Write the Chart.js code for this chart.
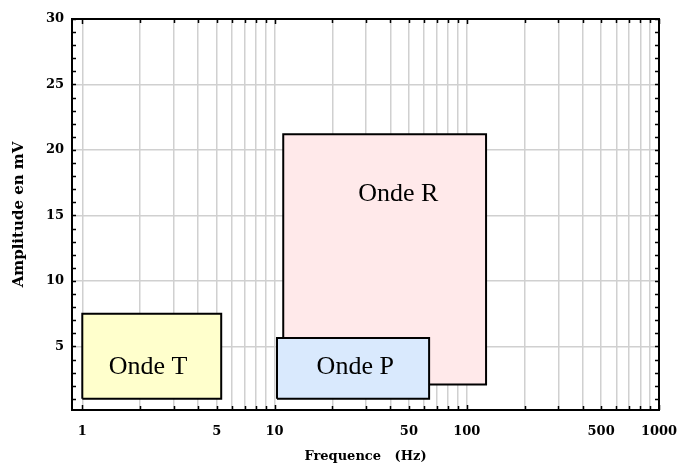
<!DOCTYPE html>
<html>
<head>
  <meta charset="UTF-8">
  <script src="https://cdn.jsdelivr.net/npm/chart.js"></script>
  <style>
    body { margin: 0; background: #fff; }
    #wrap { width: 677px; height: 468px; }
  </style>
</head>
<body>
<div id="wrap"><canvas id="myChart"></canvas></div>
<script>
// wave zones (frequency range in Hz, amplitude range in mV)
const waveNames = ['Onde T', 'Onde P', 'Onde R'];
const freqLow = [1.0, 10.3, 11.1];
const freqHigh = [5.28, 63.7, 126];
const ampLow = [1.0, 1.0, 2.1];
const ampHigh = [7.5, 5.65, 21.2];
const labelFreq = [2.2, 26.3, 44];
const labelAmp = [3.45, 3.45, 16.6];
const fillColors = ['#ffffcc', '#d9e9fd', '#ffe9ea'];

// axis ticks
const xTickValues = [1, 2, 3, 4, 5, 6, 7, 8, 9, 10, 20, 30, 40, 50, 60, 70, 80, 90,
  100, 200, 300, 400, 500, 600, 700, 800, 900, 1000];
const xTickLabels = [1, 5, 10, 50, 100, 500, 1000];
const yTickValues = [1, 2, 3, 4, 5, 6, 7, 8, 9, 10, 11, 12, 13, 14, 15, 16, 17, 18, 19, 20,
  21, 22, 23, 24, 25, 26, 27, 28, 29, 30];
const yTickLabels = [5, 10, 15, 20, 25, 30];

const tickFont = { family: 'DejaVu Serif', size: 13, weight: 'bold' };

// each zone as a closed rectangle path
const datasets = waveNames.map((name, i) => ({
  label: name,
  data: [
    { x: freqLow[i], y: ampLow[i] },
    { x: freqHigh[i], y: ampLow[i] },
    { x: freqHigh[i], y: ampHigh[i] },
    { x: freqLow[i], y: ampHigh[i] },
    { x: freqLow[i], y: ampLow[i] }
  ],
  backgroundColor: fillColors[i],
  borderColor: '#000',
  borderWidth: 2,
  fill: 'shape',
  pointRadius: 0,
  tension: 0
}));

// frame, inner tick marks and zone names
const framePlugin = {
  id: 'frame',
  afterDatasetsDraw(chart) {
    const ctx = chart.ctx;
    const area = chart.chartArea;
    const xs = chart.scales.x, ys = chart.scales.y;
    ctx.save();
    ctx.strokeStyle = '#000';
    ctx.lineWidth = 1.5;
    xTickValues.forEach(v => {
      const px = Math.round(xs.getPixelForValue(v)) + 0.5;
      const len = (v === 1 || v === 10 || v === 100 || v === 1000) ? 5 : 4;
      ctx.beginPath();
      ctx.moveTo(px, area.bottom); ctx.lineTo(px, area.bottom - len);
      ctx.moveTo(px, area.top); ctx.lineTo(px, area.top + len);
      ctx.stroke();
    });
    yTickValues.forEach(v => {
      const py = Math.round(ys.getPixelForValue(v)) + 0.5;
      ctx.beginPath();
      ctx.moveTo(area.left, py); ctx.lineTo(area.left + 4, py);
      ctx.moveTo(area.right, py); ctx.lineTo(area.right - 4, py);
      ctx.stroke();
    });
    ctx.lineWidth = 2;
    ctx.strokeRect(area.left, area.top, area.right - area.left, area.bottom - area.top);

    ctx.fillStyle = '#000';
    ctx.font = '26px "Liberation Serif"';
    ctx.textAlign = 'center';
    ctx.textBaseline = 'middle';
    waveNames.forEach((name, i) => {
      ctx.fillText(name, xs.getPixelForValue(labelFreq[i]), ys.getPixelForValue(labelAmp[i]));
    });
    ctx.restore();
  }
};

new Chart('myChart', {
  type: 'line',
  data: { datasets: datasets },
  plugins: [framePlugin],
  options: {
    responsive: true,
    maintainAspectRatio: false,
    animation: false,
    layout: { padding: { top: 19, right: 18, left: 0, bottom: 0 } },
    plugins: { legend: { display: false }, tooltip: { enabled: false } },
    scales: {
      x: {
        type: 'logarithmic',
        min: 0.884,
        max: 1000,
        afterBuildTicks: s => { s.ticks = xTickValues.map(v => ({ value: v })); },
        afterFit: s => { s.height = 58; s.paddingLeft = 0; s.paddingRight = 0; },
        border: { display: false },
        grid: { color: '#d0d0d0', lineWidth: 1.5, drawTicks: false },
        ticks: {
          autoSkip: false,
          maxRotation: 0,
          padding: 14,
          color: '#000',
          font: tickFont,
          callback: v => xTickLabels.includes(v) ? String(v) : ''
        },
        title: {
          display: true,
          text: 'Frequence   (Hz)',
          color: '#000',
          font: { family: 'DejaVu Serif', size: 13, weight: 'bold' },
          padding: { top: 0, bottom: 4 }
        }
      },
      y: {
        type: 'linear',
        min: 0.15,
        max: 30,
        afterBuildTicks: s => { s.ticks = yTickValues.map(v => ({ value: v })); },
        afterFit: s => { s.width = 72; s.paddingTop = 0; s.paddingBottom = 0; },
        border: { display: false },
        grid: {
          drawTicks: false,
          lineWidth: 1.5,
          color: c => (c.tick && yTickLabels.includes(c.tick.value)) ? '#d0d0d0' : 'rgba(0,0,0,0)'
        },
        ticks: {
          autoSkip: false,
          padding: 8,
          color: '#000',
          font: tickFont,
          callback: v => yTickLabels.includes(v) ? String(v) : ''
        },
        title: {
          display: true,
          text: 'Amplitude en mV',
          color: '#000',
          font: { family: 'DejaVu Serif', size: 15, weight: 'bold' },
          padding: { top: 10, bottom: 0 }
        }
      }
    }
  }
});
</script>
</body>
</html>
